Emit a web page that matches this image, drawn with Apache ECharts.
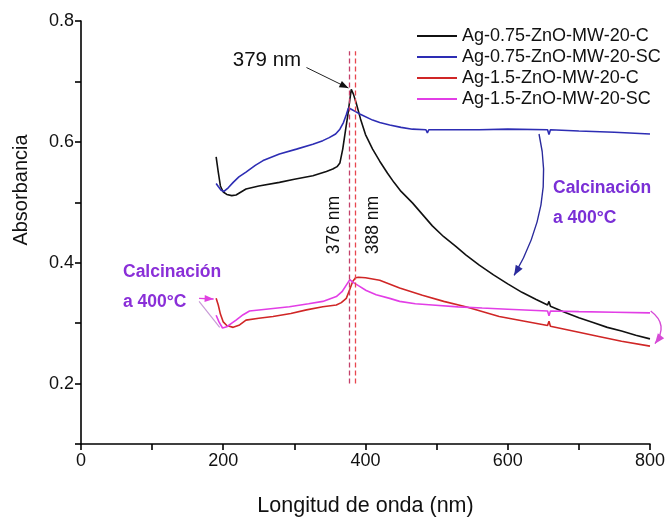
<!DOCTYPE html>
<html><head><meta charset="utf-8">
<script src="https://cdn.jsdelivr.net/npm/echarts@6/dist/echarts.min.js"></script>
<style>html,body{margin:0;padding:0;background:#fff}#c{width:668px;height:522px}</style>
</head><body><div id="c"></div>
<script>
// ---------- data (wavelength nm, absorbance) ----------
const seriesNames = ['Ag-0.75-ZnO-MW-20-C','Ag-0.75-ZnO-MW-20-SC','Ag-1.5-ZnO-MW-20-C','Ag-1.5-ZnO-MW-20-SC'];
const xTickLabels = [0, 200, 400, 600, 800];
const yTickLabels = [0.2, 0.4, 0.6, 0.8];

const ag075C = [[190,0.575],[193,0.55],[196,0.527],[200,0.517],[205,0.513],[212,0.511],[218,0.512],[225,0.517],[232,0.522],[250,0.527],[279,0.533],[300,0.538],[326,0.544],[345,0.551],[354,0.555],[360,0.559],[364,0.565],[368,0.588],[372,0.620],[375,0.643],[378,0.670],[380,0.687],[383,0.679],[387,0.664],[393,0.638],[400,0.612],[410,0.588],[420,0.568],[431,0.548],[440,0.533],[450,0.518],[466,0.499],[480,0.480],[494,0.461],[510,0.443],[527,0.427],[541,0.413],[560,0.396],[580,0.380],[600,0.365],[620,0.351],[640,0.339],[656,0.330],[658,0.336],[660,0.328],[680,0.318],[700,0.309],[720,0.301],[740,0.293],[760,0.287],[780,0.280],[800,0.274]];

const ag075SC = [[190,0.531],[193,0.526],[197,0.520],[201,0.518],[207,0.524],[214,0.533],[222,0.542],[232,0.550],[245,0.561],[256,0.569],[279,0.580],[303,0.588],[326,0.596],[340,0.602],[349,0.607],[358,0.613],[364,0.621],[369,0.632],[373,0.645],[376,0.656],[380,0.654],[386,0.650],[392,0.646],[410,0.636],[420,0.632],[434,0.628],[450,0.624],[466,0.621],[485,0.620],[487,0.615],[489,0.620],[520,0.620],[560,0.620],[600,0.621],[656,0.620],[658,0.612],[660,0.620],[700,0.618],[750,0.616],[800,0.613]];

const ag15C = [[190,0.341],[193,0.330],[196,0.315],[200,0.302],[205,0.296],[214,0.293],[223,0.297],[232,0.305],[250,0.308],[270,0.311],[295,0.316],[317,0.322],[340,0.327],[359,0.330],[366,0.334],[373,0.341],[378,0.356],[382,0.369],[386,0.375],[390,0.376],[400,0.375],[420,0.371],[448,0.358],[480,0.346],[510,0.336],[541,0.327],[588,0.311],[620,0.304],[656,0.296],[658,0.303],[660,0.295],[700,0.285],[728,0.278],[760,0.270],[800,0.262]];

const ag15SC = [[190,0.313],[194,0.302],[199,0.292],[205,0.294],[212,0.300],[218,0.305],[228,0.314],[237,0.320],[260,0.323],[293,0.327],[320,0.332],[340,0.336],[359,0.344],[367,0.352],[373,0.363],[378,0.372],[382,0.368],[390,0.362],[401,0.354],[415,0.347],[434,0.341],[448,0.336],[470,0.332],[494,0.330],[530,0.327],[564,0.325],[600,0.323],[656,0.320],[658,0.312],[660,0.320],[700,0.319],[750,0.318],[800,0.317]];

// peak reference lines (nm) and their extent (absorbance)
const peakLineX = [377, 386];
const peakLineLabels = ['376 nm', '388 nm'];
const peakLineRange = [0.2, 0.75];

// annotation arrows in data coordinates
const peakArrow = [[317, 0.723], [376, 0.689]];
const blueArc = {from: [644, 0.613], ctrl: [667, 0.496], to: [609, 0.379]};
const magentaArc = {from: [801, 0.320], ctrl: [827, 0.297], to: [807, 0.266]};
const leftLoop = [[195, 0.293], [166, 0.336]];
const leftArrow = [[166, 0.341], [186.5, 0.340]];

// ---------- chart ----------
const colors = ['#111111', '#2d2db4', '#d02626', '#e23ee6'];
const font = '"Liberation Sans", Arial, sans-serif';
const chart = echarts.init(document.getElementById('c'));

const axisStyle = {color: '#000', width: 1.6};
const option = {
  animation: false,
  color: colors,
  textStyle: {fontFamily: font},
  grid: {left: 81, right: 17, top: 21, bottom: 76},
  xAxis: {
    type: 'value', min: 0, max: 800, interval: 100,
    axisLine: {lineStyle: axisStyle},
    axisTick: {length: 6, lineStyle: axisStyle},
    axisLabel: {formatter: v => xTickLabels.includes(v) ? String(v) : '', fontSize: 18, color: '#111', margin: 8, fontFamily: font},
    splitLine: {show: false},
    name: 'Longitud de onda (nm)', nameLocation: 'middle', nameGap: 51,
    nameTextStyle: {fontSize: 21.5, color: '#111', fontFamily: font}
  },
  yAxis: {
    type: 'value', min: 0.1, max: 0.8, interval: 0.1,
    axisLine: {show: true, lineStyle: axisStyle},
    axisTick: {show: true, length: 6, lineStyle: axisStyle},
    axisLabel: {formatter: v => { const r = Math.round(v * 10) / 10; return yTickLabels.includes(r) ? r.toFixed(1) : ''; }, fontSize: 18, color: '#111', margin: 7, fontFamily: font},
    splitLine: {show: false}
  },
  legend: {
    orient: 'vertical', left: 412, top: 22, itemWidth: 40, itemHeight: 2, itemGap: 3, icon: 'rect',
    textStyle: {fontSize: 18, color: '#111', fontFamily: font},
    data: seriesNames
  },
  series: [ag075C, ag075SC, ag15C, ag15SC].map((d, i) => ({
    name: seriesNames[i], type: 'line', data: d, showSymbol: false, smooth: false,
    lineStyle: {width: 1.6, color: colors[i]}, itemStyle: {color: colors[i]}
  }))
};
option.series[2].markLine = {
  silent: true, symbol: ['none', 'none'], label: {show: false},
  data: peakLineX.map((x, i) => [
    {coord: [x, peakLineRange[0]], lineStyle: {color: i === 0 ? '#c4406a' : '#e8474f', type: [5, 3], width: 1.3}},
    {coord: [x, peakLineRange[1]]}
  ])
};
chart.setOption(option);

// ---------- annotations ----------
const P = pt => chart.convertToPixel({gridIndex: 0}, pt);
function head(tip, from, color, len, half) {
  const dx = tip[0] - from[0], dy = tip[1] - from[1];
  const L = Math.hypot(dx, dy), ux = dx / L, uy = dy / L;
  const bx = tip[0] - ux * len, by = tip[1] - uy * len;
  return {type: 'polygon', shape: {points: [tip, [bx - uy * half, by + ux * half], [bx + uy * half, by - ux * half]]}, style: {fill: color}, z: 10};
}
function arc(a, color, w) {
  const p0 = P(a.from), c = P(a.ctrl), p2 = P(a.to);
  return [
    {type: 'bezierCurve', shape: {x1: p0[0], y1: p0[1], cpx1: c[0], cpy1: c[1], x2: p2[0], y2: p2[1]}, style: {stroke: color, lineWidth: w, fill: null}, z: 10},
    head(p2, c, color, 10, 4)
  ];
}
const g = [];
const a0 = P(peakArrow[0]), a1 = P(peakArrow[1]);
g.push({type: 'line', shape: {x1: a0[0], y1: a0[1], x2: a1[0], y2: a1[1]}, style: {stroke: '#222', lineWidth: 1}, z: 10});
g.push(head(a1, a0, '#111', 9, 3.5));
g.push(...arc(blueArc, '#2a2a9c', 1.4));
g.push(...arc(magentaArc, '#d64ad6', 1.4));
const l0 = P(leftLoop[0]), l1 = P(leftLoop[1]);
g.push({type: 'line', shape: {x1: l0[0], y1: l0[1], x2: l1[0], y2: l1[1]}, style: {stroke: '#c89ad6', lineWidth: 1.2}, z: 10});
const r0 = P(leftArrow[0]), r1 = P(leftArrow[1]);
g.push({type: 'line', shape: {x1: r0[0], y1: r0[1], x2: r1[0], y2: r1[1]}, style: {stroke: '#e040e0', lineWidth: 1.4}, z: 10});
g.push(head(r1, r0, '#e040e0', 9, 3.5));
const purple = '#7a2fd6';
const txt = (text, x, y, opt, rot) => ({type: 'text', x, y, z: 11, rotation: rot || 0, style: Object.assign({text, font: '17px ' + font, fill: '#111', align: 'left', verticalAlign: 'middle'}, opt || {})});
g.push(txt('Absorbancia', 21, 190, {font: '20px ' + font, align: 'center'}, Math.PI / 2));
g.push(txt('379 nm', 267, 60, {font: '20.5px ' + font, align: 'center'}));
g.push(txt(peakLineLabels[0], 334, 225, {font: '17.5px ' + font, align: 'center'}, Math.PI / 2));
g.push(txt(peakLineLabels[1], 373, 225, {font: '17.5px ' + font, align: 'center'}, Math.PI / 2));
g.push(txt('Calcinación', 553, 188, {font: 'bold 17.5px ' + font, fill: purple}));
g.push(txt('a 400°C', 553, 218, {font: 'bold 17.5px ' + font, fill: purple}));
g.push(txt('Calcinación', 123, 272, {font: 'bold 17.5px ' + font, fill: '#8a2fd8'}));
g.push(txt('a 400°C', 123, 302, {font: 'bold 17.5px ' + font, fill: '#8a2fd8'}));
chart.setOption({graphic: g});
</script>
</body></html>
